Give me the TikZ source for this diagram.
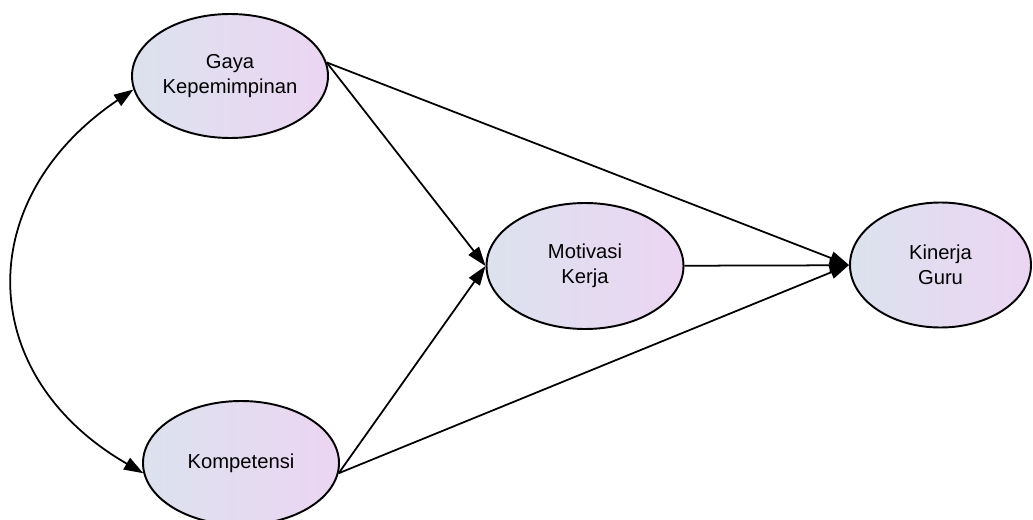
\documentclass[tikz,border=0pt]{standalone}
\usepackage{fontspec}
\setmainfont{Liberation Sans}
\usetikzlibrary{arrows.meta,shapes.geometric}
\definecolor{vleft}{RGB}{220,226,238}
\definecolor{vright}{RGB}{236,213,242}
\tikzset{
  var/.style={ellipse,draw=black,line width=1.1pt,left color=vleft,right color=vright,
    minimum width=3.92cm,minimum height=2.48cm,inner sep=0pt,align=center,
    font=\fontsize{11.5}{14}\selectfont},
  path/.style={-{Triangle[length=11pt,width=7.5pt]},line width=1pt,draw=black},
  cov/.style={{Triangle[length=11pt,width=7.5pt]}-{Triangle[length=11pt,width=7.5pt]},line width=1pt,draw=black},
}

\begin{document}
\begin{tikzpicture}
\useasboundingbox (0,0) rectangle (20.66,10.38);
\node[var] (gaya) at (4.60,8.86) {Gaya\\Kepemimpinan};
\node[var] (komp) at (4.82,1.12) {Kompetensi};
\node[var,minimum width=3.94cm,minimum height=2.52cm] (motiv) at (11.70,5.06) {Motivasi\\Kerja};
\node[var,minimum width=3.62cm,minimum height=2.50cm] (kin) at (18.81,5.08) {Kinerja\\Guru};
% direct paths
\draw[path] (gaya.8) -- (motiv.west);
\draw[path] (gaya.8) -- (kin.west);
\draw[path] (komp.354) -- (motiv.west);
\draw[path] (komp.354) -- (kin.west);
\draw[path] (motiv) -- (kin);
% correlation
\draw[cov] (gaya.188) to[out=214,in=150,looseness=1.3] (komp.186);
\end{tikzpicture}
\end{document}
